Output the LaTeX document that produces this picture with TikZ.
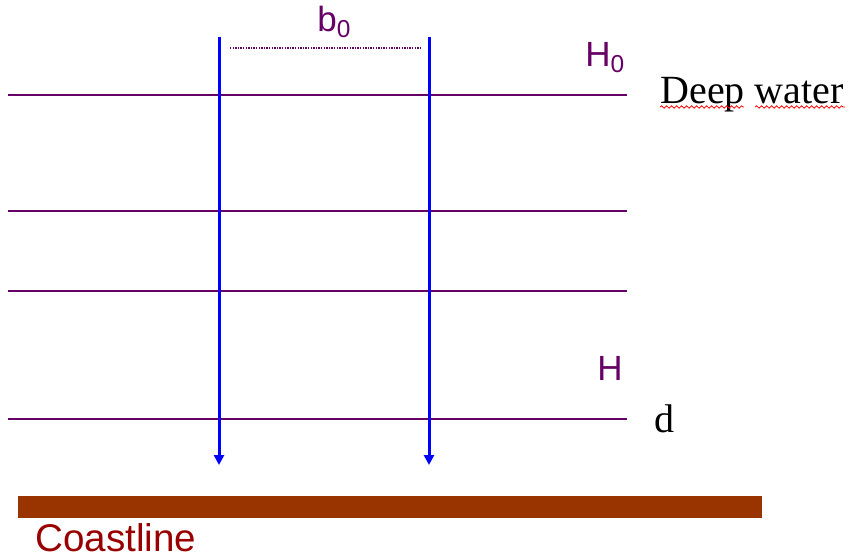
\documentclass[tikz,border=0pt]{standalone}
\usepackage{fontspec}
\newfontfamily\arialfont{Liberation Sans}
\newfontfamily\timesfont{Liberation Serif}
\usetikzlibrary{arrows.meta,decorations.pathmorphing}
\definecolor{wavepurple}{RGB}{102,0,102}
\definecolor{rayblue}{RGB}{0,0,255}
\definecolor{coastbrown}{RGB}{153,51,0}
\definecolor{coastred}{RGB}{153,0,0}

\begin{document}
\begin{tikzpicture}[x=0.5pt, y=-0.5pt,
    crest/.style={wavepurple, line width=1pt},
    ray/.style={rayblue, line width=1.5pt, -{Triangle[width=5pt,length=5pt]}},
    lbl/.style={anchor=base west, inner sep=0pt, wavepurple, font=\arialfont\fontsize{17.5}{20}\selectfont},
    serif/.style={anchor=base west, inner sep=0pt, black, font=\timesfont\fontsize{20}{24}\selectfont},
    spell/.style={red, line width=0.4pt, decorate, decoration={snake, amplitude=0.6pt, segment length=2.5pt}}]
\useasboundingbox (0,0) rectangle (849,556);
% wave crests
\foreach \y/\n in {95/a,211/b,291/c,419/d}{
    \coordinate (c\n-w) at (8,\y);
    \coordinate (c\n-e) at (627,\y);
    \draw[crest] (c\n-w) -- (c\n-e);
}
% orthogonals
\foreach \x/\n in {219/l,429/r}{
    \coordinate (o\n-top) at (\x,37);
    \coordinate (o\n-end) at (\x,465);
    \draw[ray] (o\n-top) -- (o\n-end);
}
\coordinate (bl) at (230,48);
\coordinate (br) at (420,48);
\draw[wavepurple, line width=0.75pt, dash pattern=on 0.7pt off 0.6pt] (bl) -- (br);
\node[lbl] (b0) at (317,32) {b\textsubscript{0}};
\node[lbl] (H0) at (585,67) {H\textsubscript{0}};
\node[lbl] (H) at (597,380) {H};
\node[serif] (deep) at (660,104) {Deep water};
\draw[spell] (660,107) -- (744,107);
\draw[spell] (755,107) -- (845,107);
\node[serif] (d) at (654,432) {d};
% coastline
\fill[coastbrown] (18,496) rectangle (762,518);
\node[anchor=base west, inner sep=0pt, coastred, font=\arialfont\fontsize{19.3}{22}\selectfont] (coast) at (35,551.5) {Coastline};
\end{tikzpicture}
\end{document}
